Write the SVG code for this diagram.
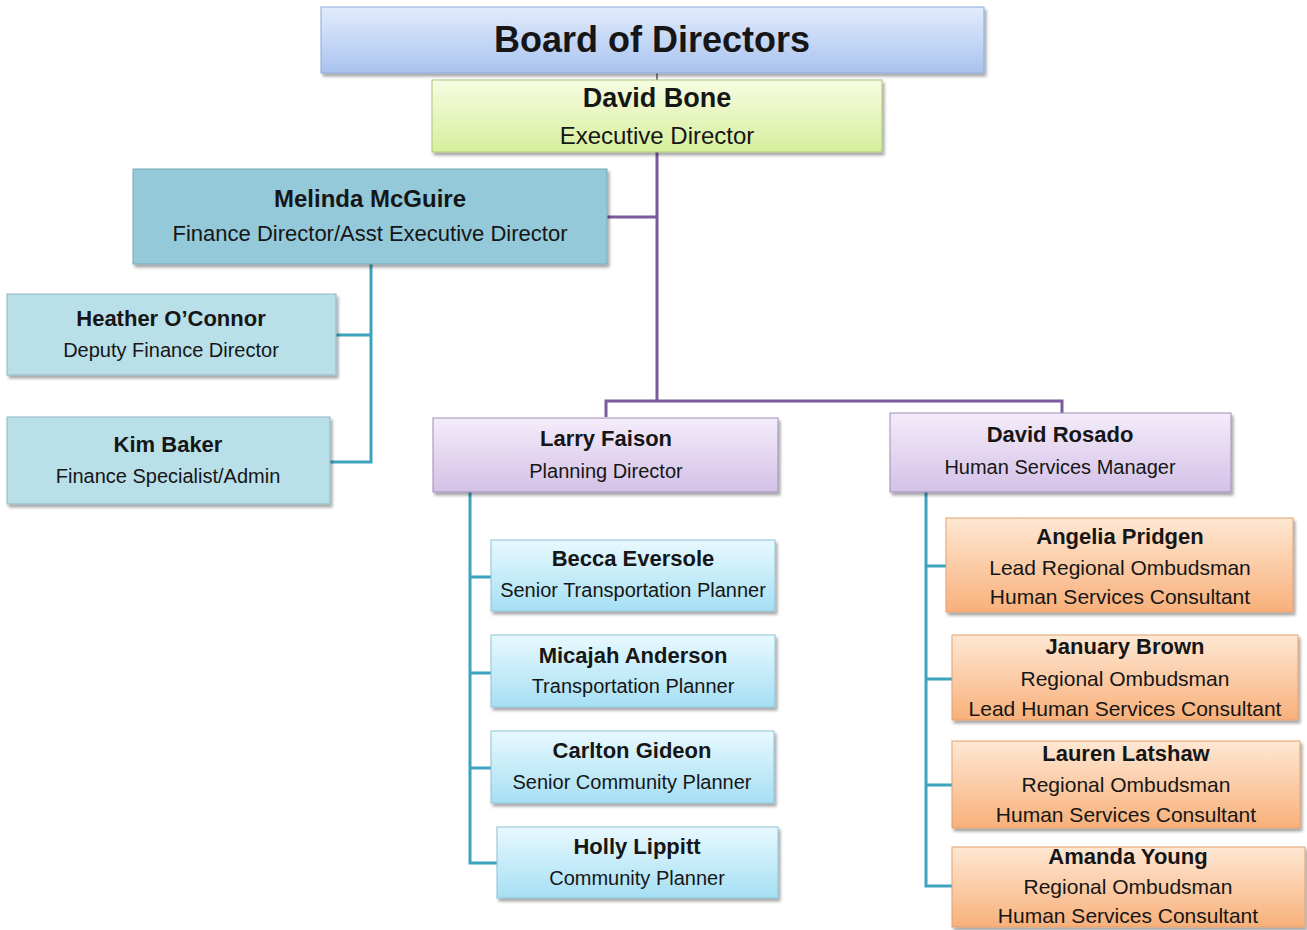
<svg xmlns="http://www.w3.org/2000/svg" width="1307" height="930" viewBox="0 0 1307 930">
<defs>
<linearGradient id="gBoard" x1="0" y1="0" x2="0" y2="1"><stop offset="0" stop-color="#e2ecfd"/><stop offset="1" stop-color="#a9c3ef"/></linearGradient>
<linearGradient id="gGreen" x1="0" y1="0" x2="0" y2="1"><stop offset="0" stop-color="#f7fce2"/><stop offset="1" stop-color="#d7ef9d"/></linearGradient>
<linearGradient id="gPurple" x1="0" y1="0" x2="0" y2="1"><stop offset="0" stop-color="#f4ecfa"/><stop offset="1" stop-color="#d4c1e7"/></linearGradient>
<linearGradient id="gBlue" x1="0" y1="0" x2="0" y2="1"><stop offset="0" stop-color="#e8f9fe"/><stop offset="1" stop-color="#a6dff4"/></linearGradient>
<linearGradient id="gOrange" x1="0" y1="0" x2="0" y2="1"><stop offset="0" stop-color="#fee8d4"/><stop offset="1" stop-color="#f8b07a"/></linearGradient>
<filter id="sh" x="-5%" y="-10%" width="115%" height="130%"><feDropShadow dx="2" dy="3" stdDeviation="1.5" flood-color="#000" flood-opacity="0.35"/></filter>
</defs>
<style>
text{font-family:"Liberation Sans",Arial,sans-serif;fill:#161616;text-anchor:middle}
.n{font-weight:bold;font-size:22px}
.t{font-size:20px}
.o{font-size:21px}
.box{filter:url(#sh);stroke-width:1}
.board{fill:url(#gBoard);stroke:#8ea9d9}
.green{fill:url(#gGreen);stroke:#a9c47a}
.mel{fill:#93c9d9;stroke:#78a8b8}
.lteal{fill:#b9dfe9;stroke:#8db7c3}
.purple{fill:url(#gPurple);stroke:#a08db6}
.blue{fill:url(#gBlue);stroke:#8cc2d8}
.orange{fill:url(#gOrange);stroke:#e3a06c}
.cp{fill:none;stroke:#7b5b9c;stroke-width:3}
.ct{fill:none;stroke:#3ea3bf;stroke-width:3}
</style>
<rect width="1307" height="930" fill="#ffffff"/>
<g id="connectors">
<line x1="657" y1="73" x2="657" y2="80" stroke="#8a8a8a" stroke-width="2"/>
<path class="cp" d="M657 152 V400 M606 417 V401 H1062 V413 M607 217 H657"/>
<path class="ct" d="M371 264 V462 H330 M336 335 H371"/>
<path class="ct" d="M470 492 V863 H497 M470 577 H491 M470 673 H491 M470 768 H491"/>
<path class="ct" d="M926 492 V886 H952 M926 566 H946 M926 679 H952 M926 785 H952"/>
</g>
<g id="board"><rect class="box board" x="321" y="7" width="663" height="66"/><text x="652" y="52" style="font-weight:bold;font-size:36px">Board of Directors</text></g>
<g id="david-bone"><rect class="box green" x="432" y="80" width="450" height="72"/><text x="657" y="107" style="font-weight:bold;font-size:27px">David Bone</text><text x="657" y="144" style="font-size:24px">Executive Director</text></g>
<g id="melinda"><rect class="box mel" x="133" y="169" width="474" height="95"/><text x="370" y="207" style="font-weight:bold;font-size:24px">Melinda McGuire</text><text x="370" y="241" style="font-size:22px">Finance Director/Asst Executive Director</text></g>
<g id="heather"><rect class="box lteal" x="7" y="294" width="329" height="81"/><text class="n" x="171" y="326">Heather O’Connor</text><text class="t" x="171" y="357">Deputy Finance Director</text></g>
<g id="kim"><rect class="box lteal" x="7" y="417" width="323" height="87"/><text class="n" x="168" y="452">Kim Baker</text><text class="t" x="168" y="483">Finance Specialist/Admin</text></g>
<g id="larry"><rect class="box purple" x="433" y="418" width="345" height="74"/><text class="n" x="606" y="446">Larry Faison</text><text class="t" x="606" y="478">Planning Director</text></g>
<g id="rosado"><rect class="box purple" x="890" y="413" width="341" height="79"/><text class="n" x="1060" y="442">David Rosado</text><text class="t" x="1060" y="474">Human Services Manager</text></g>
<g id="becca"><rect class="box blue" x="491" y="540" width="284" height="71"/><text class="n" x="633" y="566">Becca Eversole</text><text class="t" x="633" y="597">Senior Transportation Planner</text></g>
<g id="micajah"><rect class="box blue" x="491" y="635" width="284" height="72"/><text class="n" x="633" y="663">Micajah Anderson</text><text class="t" x="633" y="693">Transportation Planner</text></g>
<g id="carlton"><rect class="box blue" x="491" y="731" width="283" height="72"/><text class="n" x="632" y="758">Carlton Gideon</text><text class="t" x="632" y="789">Senior Community Planner</text></g>
<g id="holly"><rect class="box blue" x="497" y="827" width="281" height="71"/><text class="n" x="637" y="854">Holly Lippitt</text><text class="t" x="637" y="885">Community Planner</text></g>
<g id="angelia"><rect class="box orange" x="946" y="518" width="347" height="94"/><text class="n" x="1120" y="544">Angelia Pridgen</text><text class="o" x="1120" y="575">Lead Regional Ombudsman</text><text class="o" x="1120" y="604">Human Services Consultant</text></g>
<g id="january"><rect class="box orange" x="952" y="635" width="346" height="85"/><text class="n" x="1125" y="654">January Brown</text><text class="o" x="1125" y="686">Regional Ombudsman</text><text class="o" x="1125" y="716">Lead Human Services Consultant</text></g>
<g id="lauren"><rect class="box orange" x="952" y="741" width="348" height="87"/><text class="n" x="1126" y="761">Lauren Latshaw</text><text class="o" x="1126" y="792">Regional Ombudsman</text><text class="o" x="1126" y="822">Human Services Consultant</text></g>
<g id="amanda"><rect class="box orange" x="952" y="847" width="353" height="80"/><text class="n" x="1128" y="864">Amanda Young</text><text class="o" x="1128" y="894">Regional Ombudsman</text><text class="o" x="1128" y="923">Human Services Consultant</text></g>
</svg>
